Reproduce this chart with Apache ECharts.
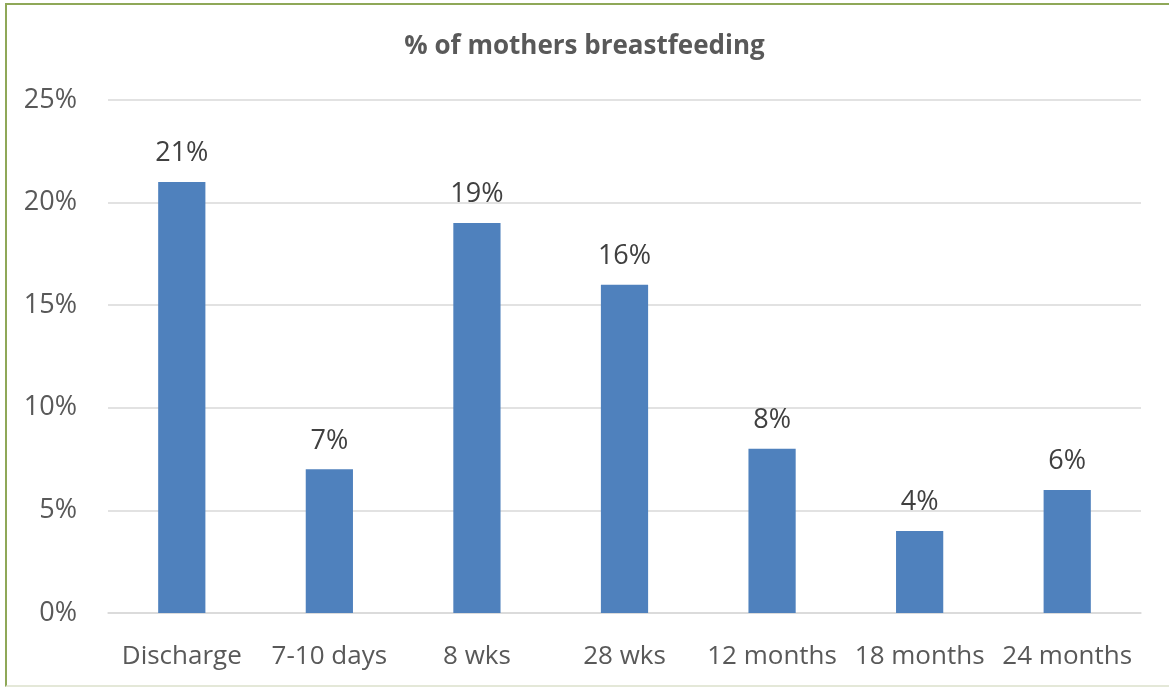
<!DOCTYPE html>
<html>
<head>
<meta charset="utf-8">
<script src="https://cdn.jsdelivr.net/npm/echarts@6/dist/echarts.min.js"></script>
<style>
  html, body { margin:0; padding:0; background:#fff; }
  #frame { position:absolute; left:5px; top:3px; width:1170px; height:684px;
           border-left:2px solid #8FA858; border-top:2px solid #8FA858;
           border-bottom:2px solid #E4E8D8; box-sizing:border-box; }
  #chart { position:absolute; left:0; top:0; width:1169px; height:690px; }
</style>
</head>
<body>
<div id="frame"></div>
<div id="chart"></div>
<script>
var categories = ["Discharge", "7-10 days", "8 wks", "28 wks", "12 months", "18 months", "24 months"];
var values = [21, 7, 19, 16, 8, 4, 6];
var yTicks = [0, 5, 10, 15, 20, 25];

var textColor = "#595959";
var font = "Open Sans";

var chart = echarts.init(document.getElementById("chart"));

chart.setOption({
  backgroundColor: "transparent",
  animation: false,
  title: {
    text: "% of mothers breastfeeding",
    left: "center",
    top: 29,
    textStyle: { color: textColor, fontFamily: font, fontWeight: "bold", fontSize: 26 }
  },
  grid: { left: 108, right: 28, top: 100, bottom: 77, containLabel: false },
  xAxis: {
    type: "category",
    data: categories,
    axisLine: { lineStyle: { color: "#D9D9D9", width: 1.5 } },
    axisTick: { show: false },
    axisLabel: { color: textColor, fontFamily: font, fontSize: 26, margin: 31, interval: 0 }
  },
  yAxis: {
    type: "value",
    min: yTicks[0],
    max: yTicks[yTicks.length - 1],
    interval: 5,
    axisLine: { show: false },
    axisTick: { show: false },
    splitLine: { lineStyle: { color: "#D9D9D9", width: 1.5 } },
    axisLabel: {
      color: textColor, fontFamily: font, fontSize: 27, margin: 31,
      formatter: function (v) { return v + "%"; }
    }
  },
  series: [{
    type: "bar",
    data: values,
    barWidth: "32%",
    itemStyle: { color: "#4F81BD" },
    label: {
      show: true,
      position: "top",
      distance: 15,
      color: "#404040",
      fontFamily: font,
      fontSize: 27,
      formatter: function (p) { return p.value + "%"; }
    }
  }]
});
</script>
</body>
</html>
